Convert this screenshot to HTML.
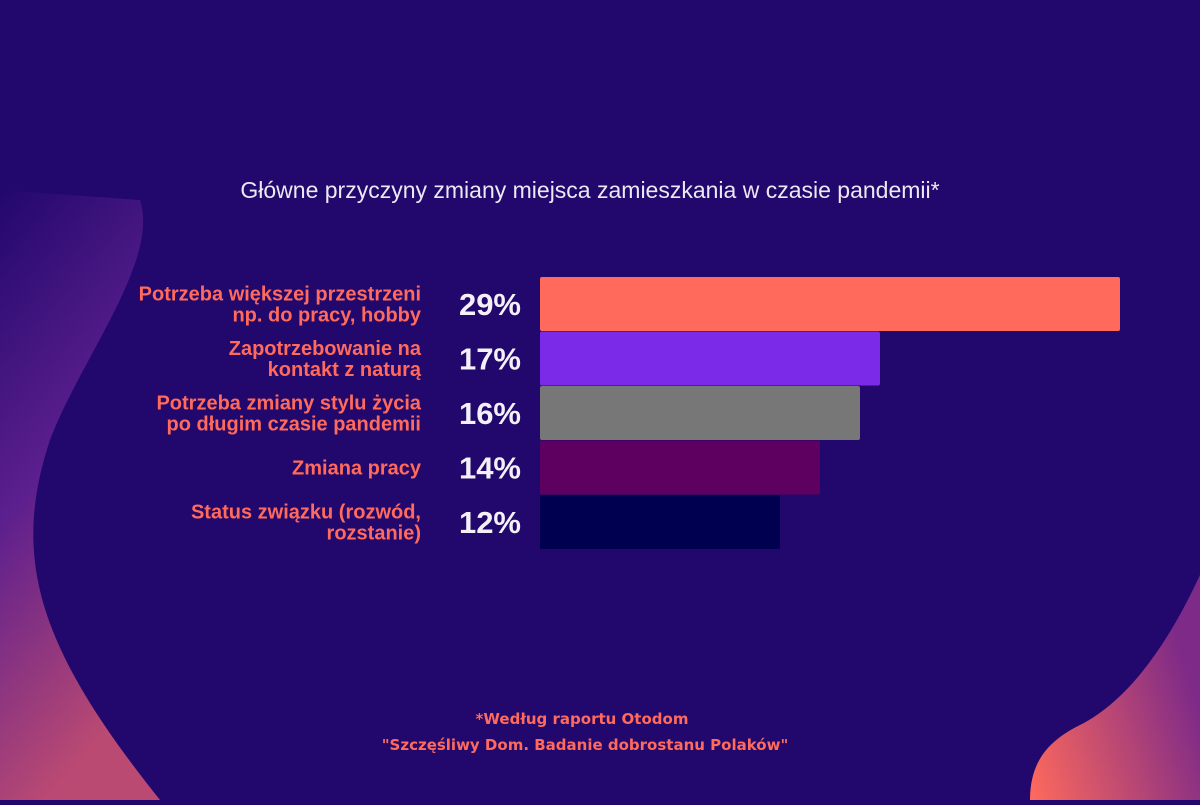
<!DOCTYPE html>
<html><head><meta charset="utf-8"><style>
body{margin:0;width:1200px;height:800px;overflow:hidden;background:#22086c;font-family:"Liberation Sans",sans-serif}
</style></head><body>
<svg width="1200" height="800" xmlns="http://www.w3.org/2000/svg">
<defs>
<linearGradient id="gl" x1="0" y1="0" x2="0.3" y2="1"><stop offset="0" stop-color="#22086c"/><stop offset="0.5" stop-color="#5c1f8e"/><stop offset="1" stop-color="#bb4a72"/></linearGradient>
<linearGradient id="gr" x1="0" y1="1" x2="1" y2="0.6"><stop offset="0" stop-color="#ff6a5c"/><stop offset="1" stop-color="#7e2a88"/></linearGradient>
</defs>
<rect width="1200" height="800" fill="#22086c"/>
<path d="M0,190 L140,200 C160,260 80,360 50,440 C10,560 40,650 160,800 L0,800 Z" fill="url(#gl)"/>
<path d="M1030,800 C1030,760 1050,740 1080,725 C1130,700 1170,640 1200,575 L1200,800 Z" fill="url(#gr)"/>
<text x="590" y="198" text-anchor="middle" font-size="23" fill="#ece8f4">Główne przyczyny zmiany miejsca zamieszkania w czasie pandemii*</text>
<g id="bars"></g>
<text x="582" y="724" text-anchor="middle" font-size="15" font-weight="bold" fill="#ff6a5c" font-family="DejaVu Sans, sans-serif">*Według raportu Otodom</text>
<text x="585" y="750" text-anchor="middle" font-size="15" font-weight="bold" fill="#ff6a5c" font-family="DejaVu Sans, sans-serif">"Szczęśliwy Dom. Badanie dobrostanu Polaków"</text>
</svg>
<script>
const categories=[["Potrzeba większej przestrzeni","np. do pracy, hobby"],["Zapotrzebowanie na","kontakt z naturą"],["Potrzeba zmiany stylu życia","po długim czasie pandemii"],["Zmiana pracy"],["Status związku (rozwód,","rozstanie)"]];
const values=[29,17,16,14,12];
const colors=["#ff6a5c","#7b2be8","#777777","#5e0060","#000050"];
const NS="http://www.w3.org/2000/svg";
const g=document.getElementById("bars");
const x0=540,pxPer=20,y0=277,step=54.5,h=54;
const xs=v=>v*pxPer;
values.forEach((v,i)=>{
 const y=y0+i*step;
 const r=document.createElementNS(NS,"rect");
 r.setAttribute("x",x0);r.setAttribute("y",y);r.setAttribute("width",xs(v));r.setAttribute("height",h);r.setAttribute("rx",2);r.setAttribute("fill",colors[i]);
 
 
 g.appendChild(r);
 const p=document.createElementNS(NS,"text");
 p.setAttribute("x",521);p.setAttribute("y",y+h/2+11);p.setAttribute("text-anchor","end");p.setAttribute("font-size","31");p.setAttribute("font-weight","bold");p.setAttribute("fill","#f4f0f8");
 p.textContent=v+"%";
 
 
 g.appendChild(p);
 const lines=categories[i];
 const t=document.createElementNS(NS,"text");
 t.setAttribute("text-anchor","end");t.setAttribute("font-size","20");t.setAttribute("font-weight","bold");t.setAttribute("fill","#ff6a5c");
 
 
 const cy=y+h/2+7;
 lines.forEach((ln,j)=>{
  const s=document.createElementNS(NS,"tspan");
  s.setAttribute("x",421);
  s.setAttribute("y",cy+(j-(lines.length-1)/2)*21);
  s.textContent=ln;
  t.appendChild(s);
 });
 g.appendChild(t);
});
</script>
</body></html>
